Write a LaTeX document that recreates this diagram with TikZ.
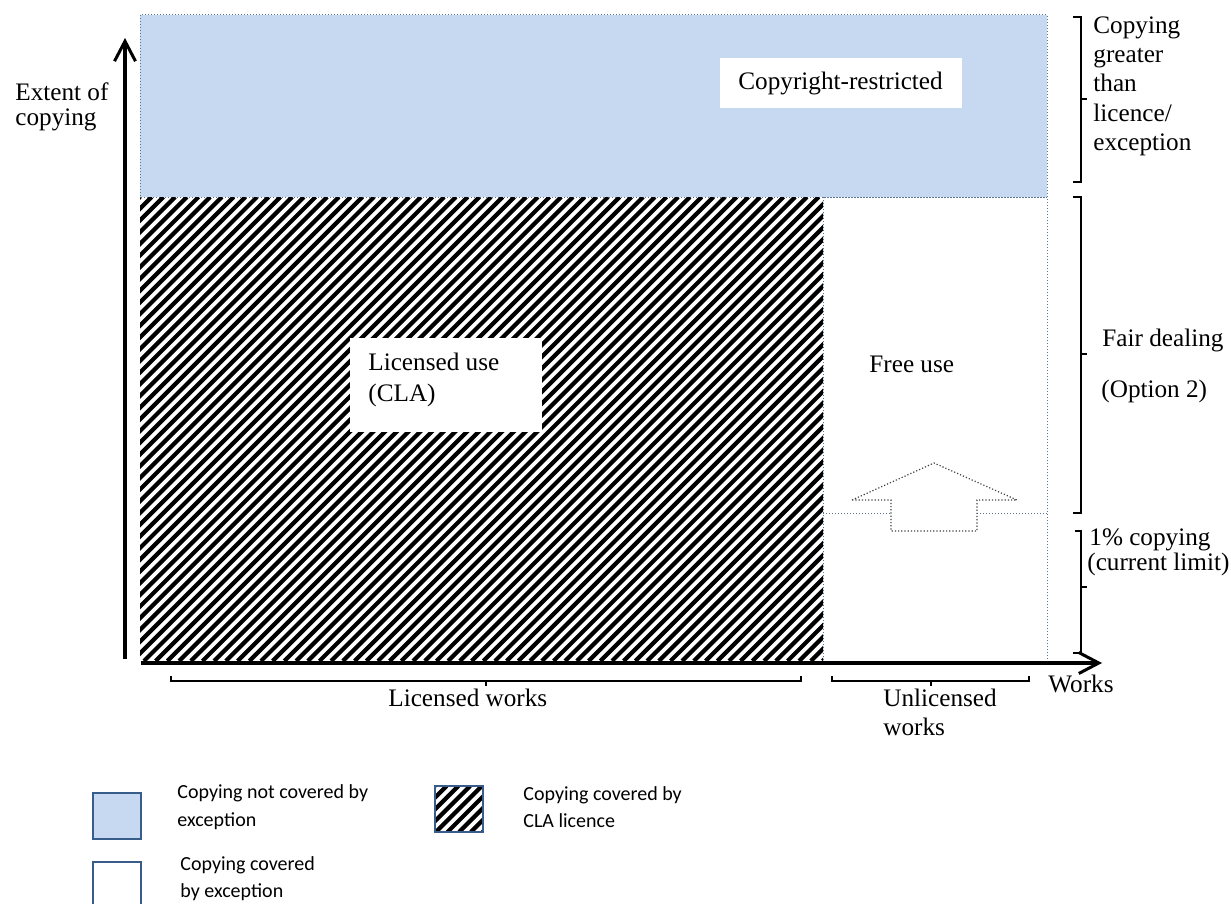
\documentclass[tikz,border=0pt]{standalone}
\usepackage{fontspec}
\setmainfont{Liberation Serif}
\newfontfamily\legendfont{Carlito}
\usetikzlibrary{arrows.meta}
\definecolor{lightblue}{HTML}{C6D9F1}
\definecolor{outl}{HTML}{385D8A}
\definecolor{dotc}{HTML}{5A7594}
\begin{document}
\begin{tikzpicture}[x=0.5pt,y=-0.5pt,
  lbl/.style={anchor=base west, inner sep=0pt, font=\fontsize{12.6}{14}\selectfont},
  leg/.style={anchor=base west, inner sep=0pt, font=\legendfont\fontsize{10}{12}\selectfont},
  brk/.style={line width=1pt},
  axis/.style={line width=1.6pt, -{Straight Barb[length=10pt,width=10.5pt,line width=1.5pt]}},
  dotline/.style={dotc, densely dotted, line width=0.5pt},
  hatch/.style={line width=2.1pt},
  legbox/.style={outl, line width=1.3pt}
]
\useasboundingbox (0,0) rectangle (1231,904);

% copyright-restricted region
\fill[lightblue] (140,15) rectangle (1047,197);
\draw[dotline] (140,15) rectangle (1047,197);

% licensed (hatched) region
\begin{scope}
\clip (140,197) rectangle (823,661);
\foreach \i in {0,...,100} { \draw[hatch] ({140-464+\i*11.7},661) -- ++(464,-464); }
\end{scope}

% free use region
\draw[dotline] (823,197) rectangle (1047,661);
\draw[dotline] (823,513) -- (891,513);
\draw[dotline] (977,513) -- (1047,513);

% up arrow shape
\draw[densely dotted, black!75, line width=0.6pt]
  (852,500) -- (934,463) -- (1017,500) -- (977,500) -- (977,531) -- (891,531) -- (891,500) -- cycle;

% white label boxes
\fill[white] (720,58) rectangle (962,108);
\fill[white] (350,338) rectangle (542,432);

% axes
\coordinate (yo) at (125,659);
\coordinate (yt) at (125,38);
\coordinate (xo) at (141,663);
\coordinate (xt) at (1102,663);
\draw[axis] (yo) -- (yt);
\draw[axis] (xo) -- (xt);

% brackets
\draw[brk] (171,676) -- (171,681) -- (801,681) -- (801,676);
\draw[brk] (486,681) -- (486,686);
\draw[brk] (832,676) -- (832,681) -- (1029,681) -- (1029,676);
\draw[brk] (931,681) -- (931,686);
\draw[brk] (1073,17) -- (1081,17) -- (1081,182) -- (1073,182);
\draw[brk] (1081,99) -- (1087,99);
\draw[brk] (1073,197) -- (1081,197) -- (1081,513) -- (1073,513);
\draw[brk] (1081,354) -- (1087,354);
\draw[brk] (1075,531) -- (1081,531) -- (1081,653) -- (1073,653);
\draw[brk] (1081,587) -- (1087,587);

% texts
\node[lbl] (ext1) at (15,101) {Extent of};
\node[lbl] (ext2) at (15,126) {copying};
\node[lbl] (cr) at (738,90) {Copyright-restricted};
\node[lbl] (lu1) at (368,370) {Licensed use};
\node[lbl] (lu2) at (368,401) {(CLA)};
\node[lbl] (fu) at (869,372) {Free use};
\node[lbl] (g1) at (1093,34) {Copying};
\node[lbl] (g2) at (1093,63) {greater};
\node[lbl] (g3) at (1093,92) {than};
\node[lbl] (g4) at (1093,121) {licence/};
\node[lbl] (g5) at (1093,150) {exception};
\node[lbl] (fd1) at (1102,346) {Fair dealing};
\node[lbl] (fd2) at (1101,397) {(Option 2)};
\node[lbl] (pc1) at (1089,545) {1\% copying};
\node[lbl] (pc2) at (1087,570) {(current limit)};
\node[lbl] (lw) at (388,706) {Licensed works};
\node[lbl] (uw1) at (883,706) {Unlicensed};
\node[lbl] (uw2) at (883,735) {works};
\node[lbl] (wk) at (1048,692) {Works};

% legend
\draw[legbox, fill=lightblue] (93,793) rectangle (141,839);
\draw[legbox] (93,906) -- (93,862) -- (141,862) -- (141,906);
\begin{scope}
\clip (435,786) rectangle (483,832);
\foreach \i in {0,...,10} { \draw[hatch] ({435-46+\i*11.7},832) -- ++(46,-46); }
\end{scope}
\draw[outl, line width=1pt] (435,786) rectangle (483,832);
\node[leg] (l1a) at (177,798) {Copying not covered by};
\node[leg] (l1b) at (177,826) {exception};
\node[leg] (l2a) at (180,870) {Copying covered};
\node[leg] (l2b) at (180,897) {by exception};
\node[leg] (l3a) at (523,800) {Copying covered by};
\node[leg] (l3b) at (523,827) {CLA licence};
\end{tikzpicture}
\end{document}
